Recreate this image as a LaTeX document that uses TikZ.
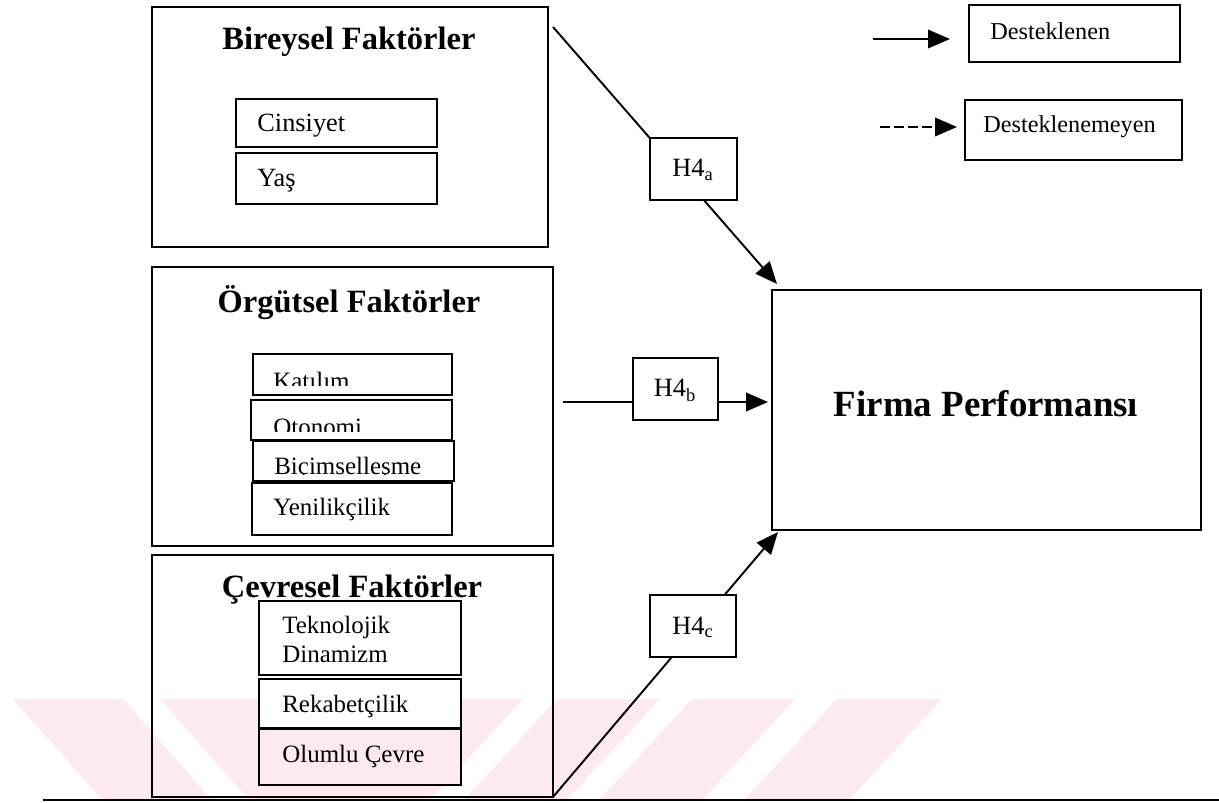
\documentclass[tikz,border=0pt]{standalone}
\usepackage{fontspec}
\setmainfont{Liberation Serif}
\usetikzlibrary{arrows.meta,fit}
\definecolor{wmpink}{RGB}{252,234,238}
\begin{document}
\begin{tikzpicture}[x=0.02cm,y=-0.02cm,
  frame/.style={draw, line width=1.1pt, inner sep=0pt},
  itembox/.style={frame, fill=white},
  grouptitle/.style={font=\fontsize{18.5}{22}\selectfont\bfseries, anchor=base, inner sep=0pt},
  item/.style={font=\fontsize{14.2}{17}\selectfont, anchor=base west, inner sep=0pt},
  hyplabel/.style={font=\fontsize{15}{18}\selectfont, anchor=base, inner sep=0pt},
  link/.style={line width=1.1pt},
  tip/.style={-{Triangle[length=0.44cm,width=0.37cm]}},
]
\useasboundingbox (0,0) rectangle (1219,803);

% pale stripes along the bottom edge
\fill[wmpink] (13,699) -- (123,699) -- (211,799) -- (101,799) -- cycle;
\fill[wmpink] (160,699) -- (270,699) -- (358,799) -- (248,799) -- cycle;
\fill[wmpink] (418,699) -- (523,699) -- (431,799) -- (326,799) -- cycle;
\fill[wmpink] (557,699) -- (660,699) -- (568,799) -- (465,799) -- cycle;
\fill[wmpink] (692,699) -- (795,699) -- (703,799) -- (600,799) -- cycle;
\fill[wmpink] (837,699) -- (942,699) -- (850,799) -- (745,799) -- cycle;

% hypothesis connectors (the H4 boxes are drawn on top of them)
\coordinate (aS) at (553,27);  \coordinate (aT) at (777,284);
\coordinate (bS) at (563,402); \coordinate (bT) at (768,402);
\coordinate (cS) at (553,797); \coordinate (cT) at (778,532);
\draw[link,tip] (aS) -- (aT);
\draw[link,tip] (bS) -- (bT);
\draw[link,tip] (cS) -- (cT);

% individual factors
\node[frame, fit={(152,7) (548,247)}] (bir) {};
\node[grouptitle] (birT) at (349,50) {Bireysel Faktörler};
\node[itembox, fit={(236,99) (437,147)}] (cins) {};
\node[item, font=\fontsize{15}{18}\selectfont] (cinsT) at (257,132) {Cinsiyet};
\node[itembox, fit={(236,153) (437,204)}] (yas) {};
\node[item, font=\fontsize{15}{18}\selectfont] (yasT) at (257,187) {Yaş};

% organisational factors
\node[frame, fit={(152,267) (553,546)}] (org) {};
\node[grouptitle] (orgT) at (349,313) {Örgütsel Faktörler};
\node[itembox, fit={(253,354) (452,395)}] (kat) {};
\begin{scope}
  \clip (253,354) rectangle (452,385);
  \node[item] (katT) at (273,390) {Katılım};
\end{scope}
\node[itembox, fit={(251,400) (452,440)}] (oto) {};
\begin{scope}
  \clip (251,400) rectangle (452,431);
  \node[item] (otoT) at (273,435) {Otonomi};
\end{scope}
\node[itembox, fit={(253,441) (454,481)}] (bic) {};
\begin{scope}
  \clip (253,441) rectangle (454,474.5);
  \node[item] (bicT) at (274,474) {Biçimselleşme};
\end{scope}
\node[itembox, fit={(252,483) (452,535)}] (yen) {};
\node[item] (yenT) at (273,515) {Yenilikçilik};

% environmental factors
\node[frame, fit={(152,555) (553,797)}] (cev) {};
\node[grouptitle] (cevT) at (352,597) {Çevresel Faktörler};
\node[itembox, fit={(259,601) (461,675)}] (tek) {};
\node[item] (tekT1) at (282,633) {Teknolojik};
\node[item] (tekT2) at (282,662) {Dinamizm};
\node[itembox, fit={(259,679) (461,728)}] (rek) {};
\node[item] (rekT) at (282,712) {Rekabetçilik};
\node[frame, fill=wmpink, fit={(259,729) (461,785)}] (olu) {};
\node[item] (oluT) at (282,762) {Olumlu Çevre};

% hypothesis boxes
\node[itembox, fit={(650,138) (737,200)}] (h4a) {};
\node[hyplabel] (h4aT) at (693,177) {H4\textsubscript{a}};
\node[itembox, fit={(633,358) (718,420)}] (h4b) {};
\node[hyplabel] (h4bT) at (675,397) {H4\textsubscript{b}};
\node[itembox, fit={(650,595) (736,657)}] (h4c) {};
\node[hyplabel] (h4cT) at (693,634) {H4\textsubscript{c}};

% outcome
\node[itembox, fit={(772,290) (1201,530)}] (firma) {};
\node[font=\fontsize{21}{25}\selectfont\bfseries, anchor=base, inner sep=0pt] (firmaT) at (986,417) {Firma Performansı};

% legend
\coordinate (l1S) at (873,39);  \coordinate (l1T) at (950,39);
\coordinate (l2S) at (880,127); \coordinate (l2T) at (957,127);
\draw[link,tip] (l1S) -- (l1T);
\draw[link,tip,dash pattern=on 0.19cm off 0.09cm] (l2S) -- (l2T);
\node[itembox, fit={(969,5) (1180,62)}] (sup) {};
\node[item, font=\fontsize{13.8}{16}\selectfont] (supT) at (990,40) {Desteklenen};
\node[itembox, fit={(965,100) (1182,160)}] (unsup) {};
\node[item, font=\fontsize{13.8}{16}\selectfont] (unsupT) at (983,133) {Desteklenemeyen};

% page rule
\draw[line width=1.6pt] (43,800) -- (1219,800);
\end{tikzpicture}
\end{document}
